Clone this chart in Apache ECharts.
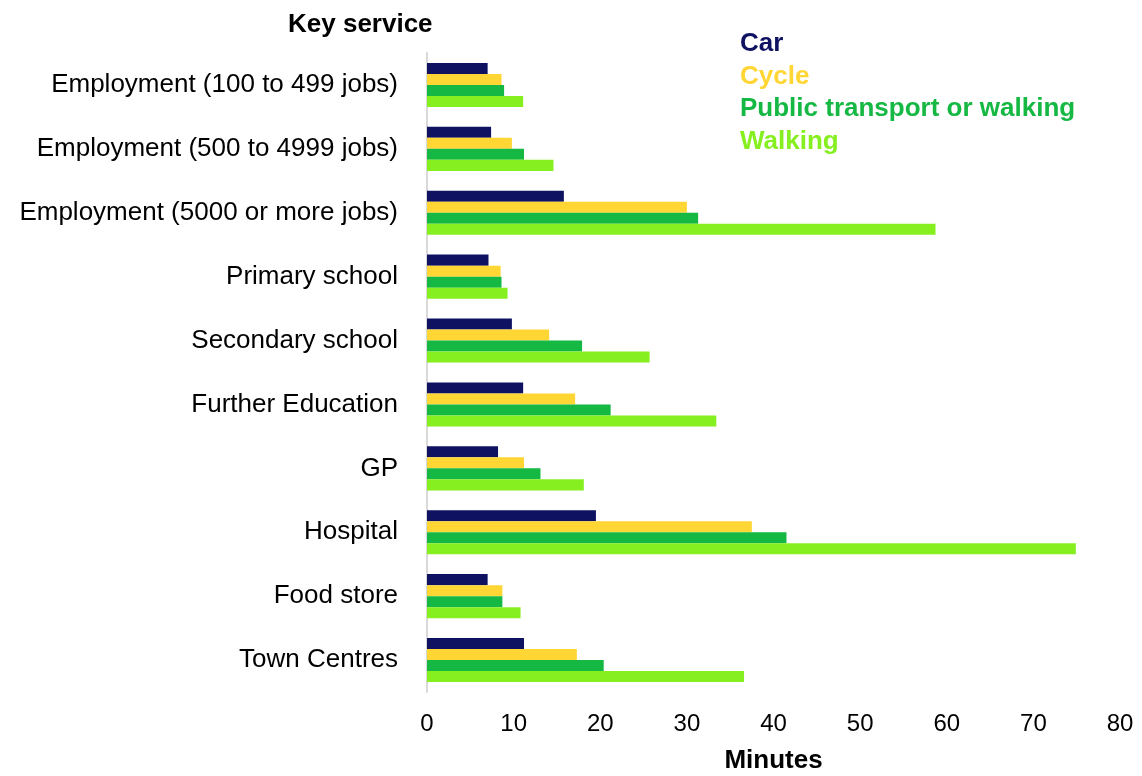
<!DOCTYPE html>
<html>
<head>
<meta charset="utf-8">
<script src="https://cdn.jsdelivr.net/npm/echarts@6/dist/echarts.min.js"></script>
<style>html,body{margin:0;padding:0;background:#fff;}#c{width:1142px;height:776px;}</style>
</head>
<body>
<div id="c"></div>
<script>
var categories = ['Employment (100 to 499 jobs)', 'Employment (500 to 4999 jobs)', 'Employment (5000 or more jobs)', 'Primary school', 'Secondary school', 'Further Education', 'GP', 'Hospital', 'Food store', 'Town Centres'];
var car = [7.0, 7.4, 15.8, 7.1, 9.8, 11.1, 8.2, 19.5, 7.0, 11.2];
var cycle = [8.6, 9.8, 30.0, 8.5, 14.1, 17.1, 11.2, 37.5, 8.7, 17.3];
var publicTransport = [8.9, 11.2, 31.3, 8.6, 17.9, 21.2, 13.1, 41.5, 8.7, 20.4];
var walking = [11.1, 14.6, 58.7, 9.3, 25.7, 33.4, 18.1, 74.9, 10.8, 36.6];
var seriesNames = ['Car', 'Cycle', 'Public transport or walking', 'Walking'];
var colors = ['#0E1261', '#FFD633', '#15B843', '#86EF1F'];
var xTicks = [0, 10, 20, 30, 40, 50, 60, 70, 80];

var font = 'Liberation Sans, Arial, sans-serif';
var chart = echarts.init(document.getElementById('c'), null, {renderer: 'canvas'});
var dataSets = [car, cycle, publicTransport, walking];
chart.setOption({
  animation: false,
  title: {
    text: 'Key service',
    left: 283, top: 7,
    textStyle: {fontFamily: font, fontSize: 26, fontWeight: 'bold', color: '#000'}
  },
  legend: {
    orient: 'vertical',
    left: 730, top: 26,
    itemWidth: 0, itemHeight: 0, itemGap: 6.5,
    icon: 'rect',
    data: seriesNames.map(function (n, i) {
      return {name: n, textStyle: {color: colors[i]}};
    }),
    textStyle: {fontFamily: font, fontSize: 26, fontWeight: 'bold', lineHeight: 26}
  },
  grid: {left: 427, right: 22, top: 53, bottom: 84, containLabel: false, outerBoundsMode: 'none'},
  xAxis: {
    type: 'value', min: xTicks[0], max: xTicks[xTicks.length - 1], interval: 10,
    name: 'Minutes', nameLocation: 'middle', nameGap: 56,
    nameTextStyle: {fontFamily: font, fontSize: 26, fontWeight: 'bold', color: '#000'},
    axisLine: {show: false}, axisTick: {show: false}, splitLine: {show: false},
    axisLabel: {fontFamily: font, fontSize: 24, color: '#000', margin: 20}
  },
  yAxis: {
    type: 'category', data: categories, inverse: true,
    axisLine: {show: true, lineStyle: {color: '#d9d9d9', width: 2}},
    axisTick: {show: false},
    axisLabel: {fontFamily: font, fontSize: 26, color: '#000', margin: 29}
  },
  series: seriesNames.map(function (n, i) {
    return {
      name: n, type: 'bar', data: dataSets[i],
      barGap: '0%', barCategoryGap: '31%',
      itemStyle: {color: colors[i]}
    };
  })
});
</script>
</body>
</html>
